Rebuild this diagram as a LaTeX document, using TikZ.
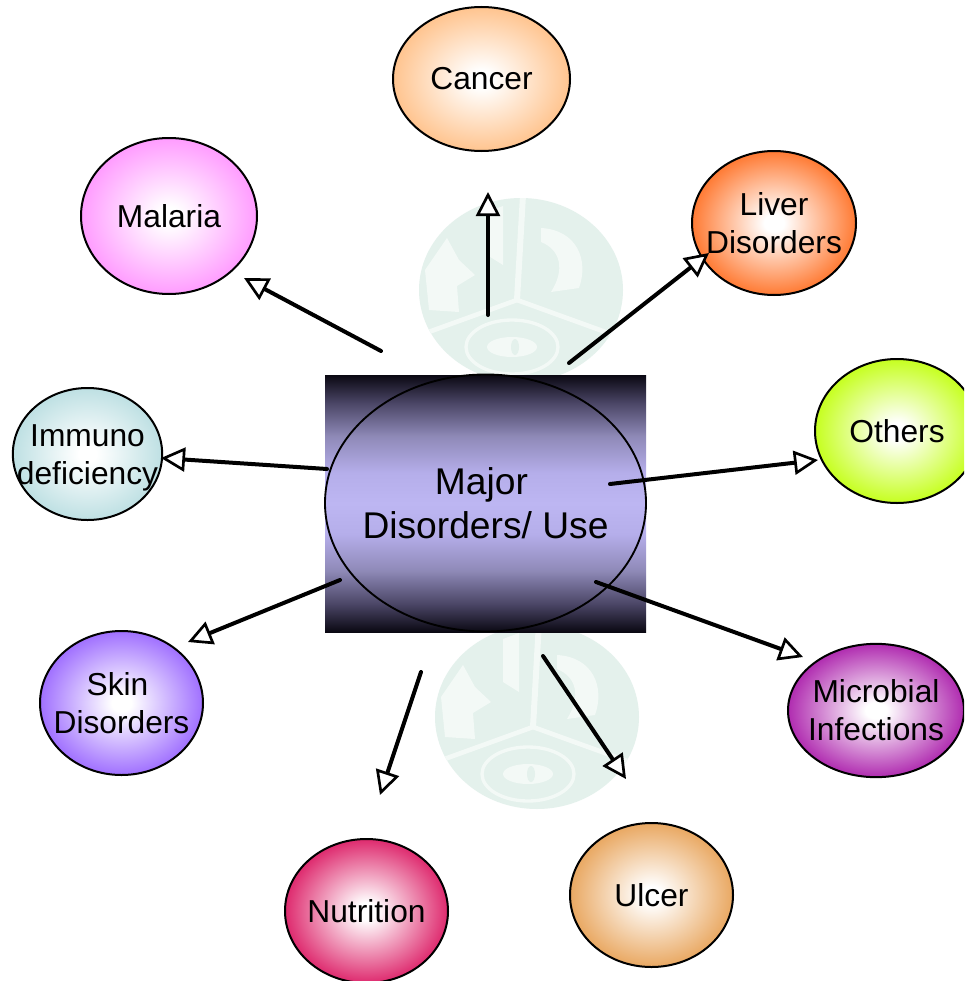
\documentclass[tikz,border=0pt]{standalone}
\usepackage{fontspec}
\setmainfont{Liberation Sans}
\usetikzlibrary{arrows.meta,shapes.geometric}
\newcommand{\declgrad}[2]{%
  \definecolor{grad#1}{HTML}{#2}%
  \pgfdeclareradialshading{rad#1}{\pgfpoint{0bp}{0bp}}{color(0bp)=(white); color(3bp)=(white); color(25bp)=(grad#1); color(50bp)=(grad#1)}}
\declgrad{cancer}{FFC48F}
\declgrad{malaria}{FF9CFF}
\declgrad{liver}{FF7A33}
\declgrad{others}{C6FF1F}
\declgrad{immuno}{BEE0E3}
\declgrad{skin}{A070FF}
\declgrad{microbial}{B02CB0}
\declgrad{nutrition}{DE2A6E}
\declgrad{ulcer}{E9A862}
\definecolor{wmgreen}{HTML}{E4F1EC}
\definecolor{wmlight}{HTML}{F3F9F6}
\definecolor{lavender}{HTML}{BDB6F2}
\definecolor{darkend}{HTML}{0A0812}
\definecolor{stopa}{HTML}{4A4565}
\definecolor{stopb}{HTML}{8F8AB8}
\definecolor{stopc}{HTML}{B5AEEA}
\pgfdeclareverticalshading{centralgrad}{100bp}{color(0bp)=(darkend); color(25bp)=(darkend); color(30.4bp)=(stopa); color(37bp)=(stopb); color(44bp)=(stopc); color(50bp)=(lavender); color(56bp)=(stopc); color(63bp)=(stopb); color(69.6bp)=(stopa); color(75bp)=(darkend); color(100bp)=(darkend)}
\newcommand{\wmark}[2]{%
  \begin{scope}[shift={(#1,#2)}]
    \fill[wmgreen] (4,-10) ellipse [x radius=102, y radius=92];
    \begin{scope}
      \clip (4,-10) ellipse [x radius=102, y radius=92];
      \fill[wmlight] (-92,-30) -- (-70,-62) -- (-58,-40) -- (-42,-25) -- (-60,-14) -- (-58,12) -- (-88,10) -- cycle;
      \fill[wmlight] (-30,-88) -- (-14,-94) -- (-14,-35) -- (-30,-45) -- cycle;
      \fill[wmlight] (24,-72) .. controls (60,-70) and (72,-40) .. (62,-12) -- (34,-8) .. controls (48,-30) and (44,-50) .. (24,-58) -- cycle;
      \draw[wmlight,line width=4.5pt] (0,0) -- (6,-105);
      \draw[wmlight,line width=3.5pt] (0,0) -- (-105,38);
      \draw[wmlight,line width=3.5pt] (0,0) -- (105,38);
      \draw[wmlight,line width=2.5pt] (-5,47) ellipse [x radius=46, y radius=27];
      \fill[wmlight] (-5,47) ellipse [x radius=25, y radius=10];
      \fill[wmgreen] (-2,47) ellipse [x radius=4, y radius=8];
    \end{scope}
  \end{scope}}
\tikzset{
  disease/.style={ellipse,draw=black,line width=1.5pt,inner sep=-25pt,align=center,
    font=\fontsize{23.8pt}{28.5pt}\selectfont},
  link/.style={line width=3pt,line cap=round,
    -{Triangle[open,fill=white,length=18pt,width=18pt,line width=2pt]}}
}
\begin{document}
\begin{tikzpicture}[x=0.75pt,y=-0.75pt]
\useasboundingbox (0,0) rectangle (964,981);
\clip (0,0) rectangle (964,981);
\fill[white] (0,0) rectangle (964,981);
\wmark{517}{300}
\wmark{533}{727}

\path[shading=centralgrad] (325,375) rectangle (646,632);
\node[ellipse,draw=black,line width=1.4pt,inner sep=-25pt,minimum width=240.75pt,minimum height=192.75pt,align=center,
  font=\fontsize{27.9pt}{33pt}\selectfont] (major) at (485.5,503) {Major\hspace*{6pt}\\Disorders/ Use};

\node[disease,shading=radcancer,minimum width=132.75pt,minimum height=108pt] (cancer) at (481.5,79) {Cancer};
\node[disease,shading=radmalaria,minimum width=132pt,minimum height=117pt] (malaria) at (169,216) {Malaria};
\node[disease,shading=radliver,minimum width=123pt,minimum height=108pt] (liver) at (774,223) {Liver\\Disorders};
\node[disease,shading=radothers,minimum width=123pt,minimum height=108pt] (others) at (897,431) {Others};
\node[disease,shading=radimmuno,minimum width=112pt,minimum height=99pt] (immuno) at (87.5,454) {\rule{0pt}{22.6pt}Immuno\\deficiency};
\node[disease,shading=radskin,minimum width=122.25pt,minimum height=108pt] (skin) at (121.5,703) {Skin\hspace*{6pt}\\Disorders};
\node[disease,shading=radmicrobial,minimum width=132pt,minimum height=100pt] (microbial) at (876,710.5) {Microbial\\Infections};
\node[disease,shading=radnutrition,minimum width=122.25pt,minimum height=108pt] (nutrition) at (366.5,911) {Nutrition};
\node[disease,shading=radulcer,minimum width=122.25pt,minimum height=108pt] (ulcer) at (651.5,895) {Ulcer};

\coordinate (sCancer) at (488,315);    \coordinate (tCancer) at (488,192);
\coordinate (sMalaria) at (381,351);   \coordinate (tMalaria) at (244,278);
\coordinate (sLiver) at (569,363);     \coordinate (tLiver) at (709,253);
\coordinate (sOthers) at (610,484);    \coordinate (tOthers) at (818,460);
\coordinate (sImmuno) at (327,469);    \coordinate (tImmuno) at (161,458);
\coordinate (sSkin) at (340,580);      \coordinate (tSkin) at (188,642);
\coordinate (sNutrition) at (421,672); \coordinate (tNutrition) at (380,795);
\coordinate (sUlcer) at (543,656);     \coordinate (tUlcer) at (626,779);
\coordinate (sMicrobial) at (596,582); \coordinate (tMicrobial) at (803,657);

\draw[link] (sCancer) -- (tCancer);
\draw[link] (sMalaria) -- (tMalaria);
\draw[link] (sLiver) -- (tLiver);
\draw[link] (sOthers) -- (tOthers);
\draw[link] (sImmuno) -- (tImmuno);
\draw[link] (sSkin) -- (tSkin);
\draw[link] (sNutrition) -- (tNutrition);
\draw[link] (sUlcer) -- (tUlcer);
\draw[link] (sMicrobial) -- (tMicrobial);
\end{tikzpicture}
\end{document}
